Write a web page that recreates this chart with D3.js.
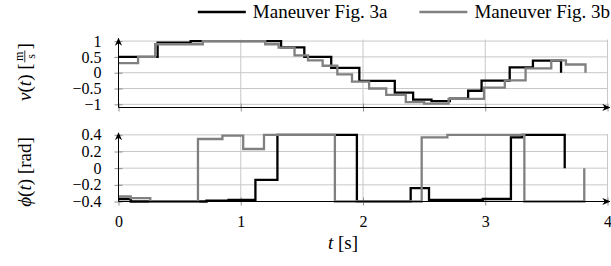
<!DOCTYPE html>
<html>
<head>
<meta charset="utf-8">
<script src="https://cdn.jsdelivr.net/npm/d3@7"></script>
<style>
body { margin: 0; background: #fff; }
svg { display: block; font-family: "Liberation Serif", "Times New Roman", serif; }
</style>
</head>
<body>
<script>
// speed v(t), maneuver Fig. 3a (black) -- switch times and held values
const vTimeA = [0, 0.32, 0.59, 1.33, 1.52, 1.74, 1.97, 2.26, 2.41, 2.56, 2.71, 2.86, 2.97, 3.20, 3.39, 3.62]
const vA     = [0.5, 0.95, 1.0, 0.8, 0.5, 0.15, -0.26, -0.63, -0.85, -0.9, -0.82, -0.57, -0.25, 0.17, 0.38, 0.0]
// speed v(t), maneuver Fig. 3b (gray)
const vTimeB = [0, 0.16, 0.30, 0.69, 1.20, 1.31, 1.44, 1.55, 1.67, 1.79, 1.91, 2.05, 2.19, 2.35, 2.50, 2.70, 2.99, 3.16, 3.33, 3.54, 3.66, 3.82]
const vB     = [0.3, 0.5, 0.9, 1.0, 0.9, 0.79, 0.55, 0.39, 0.22, -0.05, -0.28, -0.5, -0.7, -0.93, -0.98, -0.83, -0.47, -0.24, 0.14, 0.39, 0.26, 0.0]

// steering angle phi(t)
const pTimeA = [0, 0.10, 0.72, 0.90, 1.12, 1.30, 1.95, 2.39, 2.54, 2.98, 3.21, 3.30, 3.65]
const pA     = [-0.37, -0.4, -0.39, -0.38, -0.14, 0.4, -0.4, -0.24, -0.38, -0.37, 0.37, 0.4, 0.0]
const pTimeB = [0, 0.10, 0.26, 0.65, 0.85, 1.02, 1.19, 1.77, 2.48, 2.69, 3.32, 3.81]
const pB     = [-0.34, -0.36, -0.4, 0.35, 0.39, 0.23, 0.4, -0.4, 0.37, 0.4, -0.4, 0.0]

const tTicks = [0, 1, 2, 3, 4]
const vTicks = [-1, -0.5, 0, 0.5, 1]
const pTicks = [-0.4, -0.2, 0, 0.2, 0.4]
const seriesNames = ['Maneuver Fig. 3a', 'Maneuver Fig. 3b']
const colors = ['#000000', '#808080']

const W = 611, H = 266
const svg = d3.select('body').append('svg').attr('width', W).attr('height', H)

const defs = svg.append('defs')
defs.append('marker')
    .attr('id', 'arrow')
    .attr('viewBox', '0 -5 10 10')
    .attr('refX', 9).attr('refY', 0)
    .attr('markerWidth', 8).attr('markerHeight', 8)
    .attr('markerUnits', 'userSpaceOnUse')
    .attr('orient', 'auto')
  .append('path')
    .attr('d', 'M0,-4.5L10,0L0,4.5L3,0Z')
    .attr('fill', '#000')

const x = d3.scaleLinear().domain([0, 4]).range([118.5, 607.5])
const yV = d3.scaleLinear().domain([-1.1, 1.05]).range([107.5, 39.5])
const yP = d3.scaleLinear().domain([-0.4, 0.41]).range([201.5, 134])

const fmt = d => d3.format('')(d)
const line = y => d3.line().x(d => x(d[0])).y(d => y(d[1])).curve(d3.curveStepAfter)

function panel(y, ticks, series, showX) {
    const g = svg.append('g')
    const [y0, y1] = y.domain()

    // grid
    g.append('g').selectAll('line').data(ticks).join('line')
        .attr('x1', x(0)).attr('x2', x(4))
        .attr('y1', d => y(d)).attr('y2', d => y(d))
        .attr('stroke', '#c8c8c8').attr('stroke-width', 1)
    g.append('g').selectAll('line').data(tTicks.slice(1)).join('line')
        .attr('x1', d => x(d)).attr('x2', d => x(d))
        .attr('y1', y(y0)).attr('y2', y(y1))
        .attr('stroke', '#c8c8c8').attr('stroke-width', 1)

    // y axis ticks + labels
    const ay = g.append('g')
        .attr('transform', `translate(${x(0)},0)`)
        .call(d3.axisLeft(y).tickValues(ticks).tickFormat(fmt).tickSizeInner(4).tickSizeOuter(0).tickPadding(13))
    ay.attr('font-family', null).attr('font-size', null)
    ay.select('.domain').remove()
    ay.selectAll('.tick line').attr('x1', 4).attr('stroke', '#909090')
    ay.selectAll('.tick text').attr('font-size', 16).attr('fill', '#000')

    // x axis ticks (+ labels on bottom panel)
    const ax = g.append('g')
        .attr('transform', `translate(0,${y(y0)})`)
        .call(d3.axisBottom(x).tickValues(tTicks).tickFormat(showX ? fmt : '').tickSizeInner(4).tickSizeOuter(0).tickPadding(10))
    ax.attr('font-family', null).attr('font-size', null)
    ax.select('.domain').remove()
    ax.selectAll('.tick line').attr('y1', -4).attr('stroke', '#909090')
    ax.selectAll('.tick text').attr('font-size', 16).attr('fill', '#000')

    // series
    series.forEach((s, i) => {
        const pts = s[0].map((t, k) => [t, s[1][k]])
        g.append('path')
            .attr('d', line(y)(pts))
            .attr('fill', 'none')
            .attr('stroke', colors[i])
            .attr('stroke-width', 2.3)
    })

    // axis lines with arrows
    g.append('line')
        .attr('x1', x(0)).attr('x2', x(4) + 2)
        .attr('y1', y(y0)).attr('y2', y(y0))
        .attr('stroke', '#000').attr('stroke-width', 1)
        .attr('marker-end', 'url(#arrow)')
    g.append('line')
        .attr('x1', x(0)).attr('x2', x(0))
        .attr('y1', y(y0)).attr('y2', y(y1) - 1)
        .attr('stroke', '#000').attr('stroke-width', 1)
        .attr('marker-end', 'url(#arrow)')
}

panel(yV, vTicks, [[vTimeA, vA], [vTimeB, vB]], false)
panel(yP, pTicks, [[pTimeA, pA], [pTimeB, pB]], true)

// axis labels
function mathLabel(parent, parts, size) {
    const t = parent.append('text').attr('font-size', size).attr('fill', '#000')
    parts.forEach(p => t.append('tspan').text(p[0]).attr('font-style', p[1] ? 'italic' : 'normal'))
    return t
}

// v(t) [m/s], rotated
const gv = svg.append('g').attr('transform', 'translate(31,72) rotate(-90)')
const tv1 = mathLabel(gv, [['v', 1], ['(', 0], ['t', 1], [')', 0], [' [', 0]], 19)
const w1 = tv1.node().getComputedTextLength()
const fr = gv.append('g')
fr.append('text').text('m').attr('font-size', 12).attr('text-anchor', 'middle').attr('y', -8.5)
fr.append('text').text('s').attr('font-size', 12).attr('text-anchor', 'middle').attr('y', 3.5)
fr.append('line').attr('x1', -6).attr('x2', 6).attr('y1', -6.2).attr('y2', -6.2).attr('stroke', '#000').attr('stroke-width', 0.8)
const tv2 = gv.append('text').attr('font-size', 19).text(']')
const w2 = tv2.node().getComputedTextLength()
const total = w1 + 14 + w2
tv1.attr('x', -total / 2)
fr.attr('transform', `translate(${-total / 2 + w1 + 7},0)`)
tv2.attr('x', -total / 2 + w1 + 14)

// phi(t) [rad], rotated
const gp = svg.append('g').attr('transform', 'translate(31,172) rotate(-90)')
mathLabel(gp, [['ϕ', 1], ['(', 0], ['t', 1], [')', 0], [' [rad]', 0]], 19).attr('text-anchor', 'middle')

// t [s]
mathLabel(svg.append('g').attr('transform', 'translate(343,249)'), [['t', 1], [' [s]', 0]], 19).attr('text-anchor', 'middle')

// legend
const lg = svg.append('g').attr('transform', 'translate(0,12)')
let cx = 610
const items = seriesNames.map((n, i) => ({ n, i })).reverse()
items.forEach(it => {
    const t = lg.append('text').text(it.n).attr('font-size', 19).attr('dy', '0.32em').attr('fill', '#000')
    const w = t.node().getComputedTextLength()
    cx -= w
    t.attr('x', cx)
    lg.append('line')
        .attr('x1', cx - 55).attr('x2', cx - 7)
        .attr('y1', 0).attr('y2', 0)
        .attr('stroke', colors[it.i]).attr('stroke-width', 2.5)
    cx -= 55 + 32
})
</script>
</body>
</html>
